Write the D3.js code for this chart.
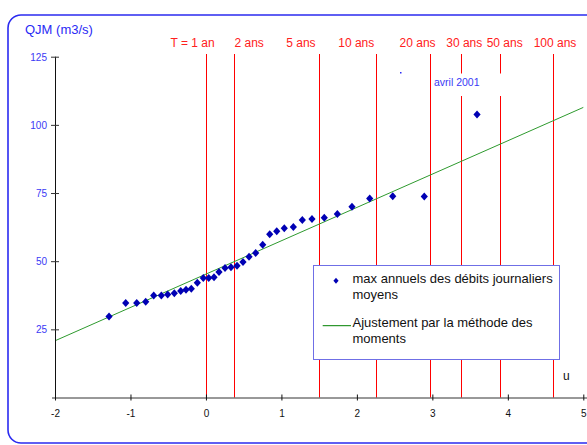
<!DOCTYPE html>
<html><head><meta charset="utf-8">
<script src="https://cdn.jsdelivr.net/npm/d3@7"></script>
<style>
html,body{margin:0;padding:0;background:#fff;}
svg{display:block;font-family:"Liberation Sans",Arial,sans-serif;}
</style></head>
<body>
<svg id="chart" width="587" height="445"></svg>
<script>
// ---- data ----
const uVals = [-1.284,-1.063,-0.917,-0.798,-0.692,-0.591,-0.507,-0.419,-0.334,-0.264,-0.194,-0.114,
  -0.035,0.037,0.107,0.173,0.253,0.332,0.412,0.491,0.571,0.659,0.752,0.845,0.938,1.038,1.158,1.277,
  1.405,1.568,1.741,1.935,2.170,2.475,2.893,3.592];
const qVals = [29.7,34.7,34.7,35.1,37.4,37.4,37.8,38.2,39.1,39.5,39.9,42.1,
  43.8,43.8,44.1,46.0,47.5,47.8,48.3,49.7,51.6,53.0,56.0,59.9,61.0,62.1,62.5,65.1,
  65.5,65.9,67.3,70.0,73.0,73.8,73.7,103.8];
const fitU = [-2, 5];
const fitQ = [20.8, 106.4];
const periodLabels = ["T = 1 an","2 ans","5 ans","10 ans","20 ans","30 ans","50 ans","100 ans"];
const periodU = [0, 0.367, 1.50, 2.25, 2.97, 3.38, 3.90, 4.60];
const xTicks = [-2,-1,0,1,2,3,4,5];
const yTicks = [25,50,75,100,125];
const yTitle = "QJM (m3/s)";
const xTitle = "u";
const annotation = "avril 2001";
const legendItems = [["max annuels des débits journaliers","moyens"],["Ajustement par la méthode des","moments"]];

// ---- layout ----
const labelDx = [-13.3, 15.5, -18.2, -19.5, -12.5, 3.2, 4.4, 1.9];
const svg = d3.select("#chart");
const x = d3.scaleLinear().domain([-2,5]).range([55,583.3]);
const y = d3.scaleLinear().domain([0,125]).range([397.5,56.7]);

// outer frame
svg.append("rect").attr("x",8).attr("y",15).attr("width",600).attr("height",428)
  .attr("rx",13).attr("fill","none").attr("stroke","#2b2bf0").attr("stroke-width",1.6);

// title
svg.append("text").attr("x",25).attr("y",33.5).attr("font-size",13).attr("fill","#2a2af5").text(yTitle);

// return period lines
const lineTop = 54;
svg.append("g").selectAll("line").data(periodU).join("line")
  .attr("x1",d=>Math.round(x(d))+0.5).attr("x2",d=>Math.round(x(d))+0.5)
  .attr("y1",lineTop).attr("y2",y(0))
  .attr("stroke","#ff0000").attr("stroke-width",1);
svg.append("g").selectAll("text").data(periodLabels).join("text")
  .attr("x",(d,i)=>x(periodU[i])+labelDx[i]).attr("y",46.5)
  .attr("text-anchor","middle").attr("font-size",12).attr("fill","#ff2020").text(d=>d);

// fit line
svg.append("line")
  .attr("x1",x(fitU[0])).attr("y1",y(fitQ[0])).attr("x2",x(fitU[1])).attr("y2",y(fitQ[1]))
  .attr("stroke","#2e9a2e").attr("stroke-width",1);

// axes
const yAxis = svg.append("g").attr("transform",`translate(${x(-2)},0)`)
  .call(d3.axisLeft(y).tickValues(yTicks).tickSize(4).tickSizeOuter(0));
yAxis.select(".domain").attr("d",`M0.5,${y(125)}V${y(0)}`).attr("stroke","#111");
yAxis.selectAll(".tick line").attr("x1",4).attr("stroke","#333");
yAxis.selectAll(".tick text").attr("x",-8).attr("dy","0.35em").attr("font-size",10)
  .attr("font-family","Liberation Sans, Arial, sans-serif").attr("fill","#3a3af5");

const xAxis = svg.append("g").attr("transform",`translate(0,${y(0)})`)
  .call(d3.axisBottom(x).tickValues(xTicks).tickSize(3).tickSizeOuter(0).tickFormat(d3.format("d")));
xAxis.select(".domain").attr("d",`M52,0.5H587`).attr("stroke","#333");
xAxis.selectAll(".tick line").attr("y1",-3).attr("stroke","#111");
xAxis.selectAll(".tick text").attr("y",12).attr("dy","0.71em").attr("font-size",10)
  .attr("font-family","Liberation Sans, Arial, sans-serif").attr("fill","#111")
  .text(d=>d<0?"-"+Math.abs(d):d);

svg.append("text").attr("x",563).attr("y",380).attr("font-size",12).attr("fill","#111").text(xTitle);

// annotation
svg.append("rect").attr("x",433).attr("y",73.5).attr("width",73).attr("height",22.5).attr("fill","#fff");
svg.append("rect").attr("x",400).attr("y",72).attr("width",1.5).attr("height",1.5).attr("fill","#2a2af5");
svg.append("text").attr("x",434).attr("y",86).attr("font-size",10.5).attr("fill","#3a3af5").text(annotation);

// points
const diamond = "M0,-4L3.6,0L0,4L-3.6,0Z";
svg.append("g").selectAll("path").data(uVals).join("path")
  .attr("d",diamond)
  .attr("transform",(d,i)=>`translate(${x(d)},${y(qVals[i])})`)
  .attr("fill","#0000b4");

// legend
const lg = svg.append("g");
lg.append("rect").attr("x",313.5).attr("y",265.5).attr("width",246).attr("height",94)
  .attr("fill","#fff").attr("stroke","#6f6fe6").attr("stroke-width",1);
lg.append("path").attr("d","M0,-3L2.6,0L0,3L-2.6,0Z").attr("transform","translate(336,280.7)").attr("fill","#0000b4");
lg.append("line").attr("x1",322.7).attr("x2",351).attr("y1",325.7).attr("y2",325.7).attr("stroke","#008000");
const baseY = [282.7, 326.7];
legendItems.forEach((lines,i)=>{
  lines.forEach((t,j)=>{
    lg.append("text").attr("x",352.5).attr("y",baseY[i]+j*16.6).attr("font-size",13).attr("fill","#111").text(t);
  });
});
</script>
</body></html>
